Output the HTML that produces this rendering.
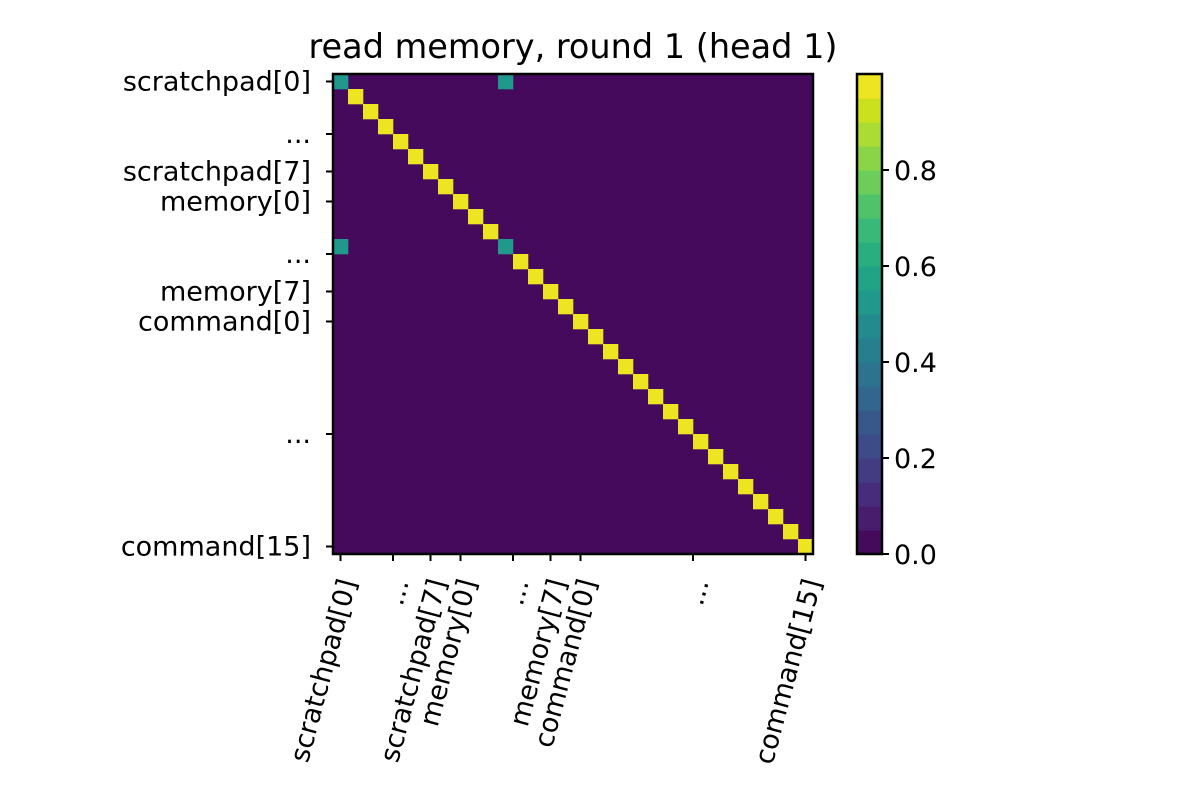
<!DOCTYPE html>
<html><head><meta charset="utf-8"><style>body{margin:0;background:#fff}svg{display:block;font-family:"DejaVu Sans","Liberation Sans",sans-serif}</style></head>
<body>
<svg id="c" width="1200" height="800"></svg>
<script>
const N = 32;
const hotCells = [[0,0],[0,11],[11,0],[11,11]];
const hotValue = 0.5;
const diagValue = 1.0;
const yTickPos = [0,3.5,6,8,11.5,14,16,23.5,31];
const tickLabels = ["scratchpad[0]","...","scratchpad[7]","memory[0]","...","memory[7]","command[0]","...","command[15]"];
const cbTicks = [0.0,0.2,0.4,0.6,0.8];
const NS="http://www.w3.org/2000/svg";
const svg=document.getElementById('c');
function el(t,a,p){const e=document.createElementNS(NS,t);for(const k in a)e.setAttribute(k,a[k]);(p||svg).appendChild(e);return e;}
const X0=333,Y0=74,W=480,cell=W/N;
const xs=i=>X0+i*cell, ys=i=>Y0+i*cell;
const FS=27;
const vir=[[68,1,84],[72,26,108],[71,47,125],[65,68,135],[57,86,140],[49,104,142],[42,120,142],[35,137,142],[31,154,138],[34,168,132],[53,183,121],[84,197,104],[122,209,81],[165,219,54],[210,226,27],[253,231,37]];
function color(v){const n=20;let b=Math.min(n-1,Math.floor(v*n));const t=(b+0.5)/n;const f=t*(vir.length-1),i=Math.min(vir.length-2,Math.floor(f)),r=f-i;const c=vir[i].map((x,k)=>Math.round(x+(vir[i+1][k]-x)*r));return `rgb(${c})`;}
const m=[];for(let r=0;r<N;r++){m.push(new Array(N).fill(0));m[r][r]=diagValue;}
hotCells.forEach(([r,c])=>m[r][c]=hotValue);
const bg=el('rect',{x:X0,y:Y0,width:W,height:W,fill:color(0)});


for(let r=0;r<N;r++)for(let c=0;c<N;c++)if(m[r][c]>0){
const e=el('rect',{x:xs(c),y:ys(r),width:cell+0.3,height:cell+0.3,fill:color(m[r][c])});

}
const fr=el('rect',{x:X0,y:Y0,width:W,height:W,fill:'none',stroke:'#000','stroke-width':2.5});


yTickPos.forEach((p,i)=>{
const y=ys(p)+cell/2;
el('line',{x1:X0-7,x2:X0,y1:y,y2:y,stroke:'#000','stroke-width':2});
const t=el('text',{x:X0-22,y:y+9,'text-anchor':'end','font-size':FS});t.textContent=tickLabels[i];


const x=xs(p)+cell/2;
el('line',{x1:x,x2:x,y1:Y0+W,y2:Y0+W+7,stroke:'#000','stroke-width':2});
const u=el('text',{x:0,y:0,'text-anchor':'end','font-size':FS,transform:`translate(${x+16},${Y0+W+28}) rotate(-75)`});u.textContent=tickLabels[i];


});
const tt=el('text',{x:573,y:58,'text-anchor':'middle','font-size':33.5});tt.textContent='read memory, round 1 (head 1)';


const CX=857,CW=25,CT=74,CB=554,vmax=1.0;
const cy=v=>CB-(CB-CT)*v/vmax;
for(let b=0;b<20;b++){const v0=b/20,v1=(b+1)/20;
const e=el('rect',{x:CX,y:cy(v1),width:CW,height:cy(v0)-cy(v1)+0.5,fill:color((v0+v1)/2)});

}
const cf=el('rect',{x:CX,y:CT,width:CW,height:CB-CT,fill:'none',stroke:'#000','stroke-width':2.5});


cbTicks.forEach(v=>{const y=cy(v);
el('line',{x1:CX+CW,x2:CX+CW+7,y1:y,y2:y,stroke:'#000','stroke-width':2});
const t=el('text',{x:CX+CW+12,y:y+10,'font-size':FS});t.textContent=v.toFixed(1);

});
</script>
</body></html>
